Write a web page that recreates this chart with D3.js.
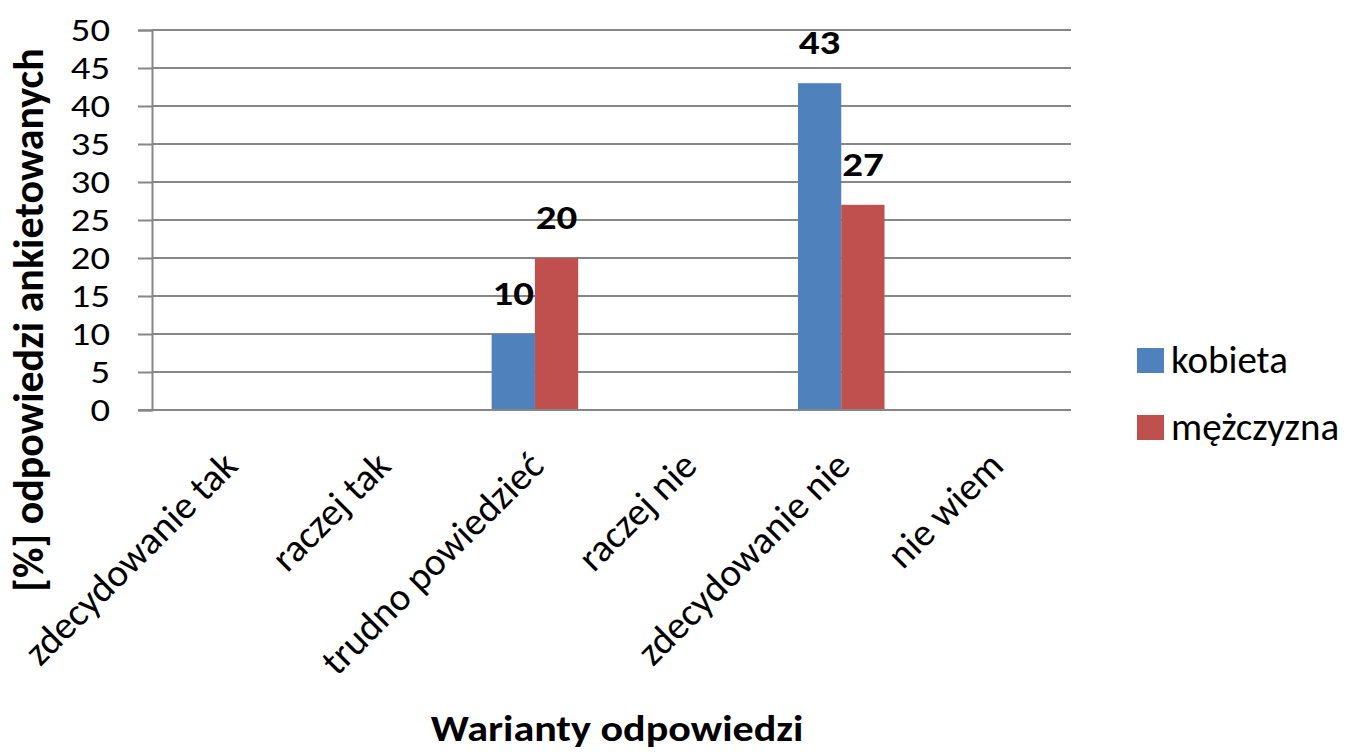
<!DOCTYPE html>
<html>
<head>
<meta charset="utf-8">
<script src="https://cdn.jsdelivr.net/npm/d3@7"></script>
<style>
  body { margin: 0; background: #fff; }
  svg text { font-family: Carlito, Calibri, "Open Sans", sans-serif; }
</style>
</head>
<body>
<div id="chart"></div>
<script>
// answer categories
const categories = [
  'zdecydowanie tak',
  'raczej tak',
  'trudno powiedzieć',
  'raczej nie',
  'zdecydowanie nie',
  'nie wiem',
];
const seriesNames = ['kobieta', 'mężczyzna'];
// null = no bar drawn
const kobieta = [null, null, 10, null, 43, null];
const mezczyzna = [null, null, 20, null, 27, null];
const yTicks = [0, 5, 10, 15, 20, 25, 30, 35, 40, 45, 50];

const colors = ['#4F81BD', '#C0504D'];
const gridColor = '#878787';
// the source picture has its horizontal text a bit wide
const stretch = 1.17;

const width = 1354;
const height = 753;
const margin = { top: 30, right: 283, bottom: 343, left: 152 };
const innerW = width - margin.left - margin.right;
const innerH = height - margin.top - margin.bottom;

const data = categories.map((c, i) => ({ cat: c, values: [kobieta[i], mezczyzna[i]] }));

const svg = d3.select('#chart')
  .append('svg')
  .attr('width', width)
  .attr('height', height);

const g = svg.append('g')
  .attr('transform', `translate(${margin.left}, ${margin.top})`);

const x = d3.scaleBand()
  .domain(categories)
  .range([0, innerW])
  .padding(0);

// two bars take ~56% of each category slot
const x1 = d3.scaleBand()
  .domain([0, 1])
  .range([0, x.bandwidth() * 0.565])
  .padding(0);

const y = d3.scaleLinear()
  .domain([0, 50])
  .range([innerH, 0]);

// gridlines
g.append('g')
  .selectAll('line')
  .data(yTicks.filter((t) => t > 0))
  .enter()
  .append('line')
  .attr('x1', 0)
  .attr('x2', innerW)
  .attr('y1', (d) => y(d))
  .attr('y2', (d) => y(d))
  .style('stroke', gridColor)
  .style('stroke-width', 2);

// y axis (line + ticks from d3, labels drawn below so they can be widened)
const yAxis = g.append('g')
  .call(d3.axisLeft(y).tickValues(yTicks).tickSize(14).tickFormat(''));
yAxis.select('.domain').style('stroke', gridColor).style('stroke-width', 2);
yAxis.selectAll('.tick line').style('stroke', gridColor).style('stroke-width', 2);

g.append('g')
  .selectAll('text')
  .data(yTicks)
  .enter()
  .append('text')
  .attr('text-anchor', 'end')
  .attr('dy', '0.33em')
  .attr('transform', (d) => `translate(-42, ${y(d)}) scale(${stretch}, 1)`)
  .style('font-size', '33px')
  .style('fill', '#000')
  .text((d) => d);

// bars
const groups = g.selectAll('.grp')
  .data(data)
  .enter()
  .append('g')
  .attr('class', 'grp')
  .attr('transform', (d) => `translate(${x(d.cat) + (x.bandwidth() - x1.range()[1]) / 2}, 0)`);

const barData = (d) => d.values.map((v, i) => ({ v, i })).filter((e) => e.v !== null);

groups.selectAll('rect')
  .data(barData)
  .enter()
  .append('rect')
  .attr('x', (d) => x1(d.i))
  .attr('width', x1.bandwidth())
  .attr('y', (d) => y(d.v))
  .attr('height', (d) => innerH - y(d.v))
  .style('fill', (d) => colors[d.i]);

// data labels
groups.selectAll('text.lbl')
  .data(barData)
  .enter()
  .append('text')
  .attr('class', 'lbl')
  .attr('text-anchor', 'middle')
  .attr('transform', (d) => `translate(${x1(d.i) + x1.bandwidth() / 2}, ${y(d.v) - 29}) scale(${stretch}, 1)`)
  .style('font-size', '35px')
  .style('font-weight', 'bold')
  .style('fill', '#000')
  .text((d) => d.v);

// x axis line
g.append('line')
  .attr('x1', -14)
  .attr('x2', innerW)
  .attr('y1', innerH)
  .attr('y2', innerH)
  .style('stroke', gridColor)
  .style('stroke-width', 2);

// x labels, rotated
g.append('g')
  .selectAll('text')
  .data(categories)
  .enter()
  .append('text')
  .attr('text-anchor', 'end')
  .attr('transform', (d) => `translate(${x(d) + x.bandwidth() / 2 + 11}, ${innerH + 58}) rotate(-45)`)
  .style('font-size', '39px')
  .style('fill', '#000')
  .text((d) => d);

// axis titles
svg.append('text')
  .attr('transform', `translate(43, ${margin.top + 290}) rotate(-90)`)
  .attr('text-anchor', 'middle')
  .style('font-size', '42px')
  .style('font-weight', 'bold')
  .text('[%] odpowiedzi ankietowanych');

svg.append('text')
  .attr('text-anchor', 'middle')
  .attr('transform', `translate(617, 741) scale(${stretch}, 1)`)
  .style('font-size', '36px')
  .style('font-weight', 'bold')
  .text('Warianty odpowiedzi');

// legend
const legend = svg.append('g')
  .selectAll('g')
  .data(seriesNames)
  .enter()
  .append('g')
  .attr('transform', (d, i) => `translate(1137, ${348 + i * 67})`);

legend.append('rect')
  .attr('width', 27)
  .attr('height', 25)
  .style('fill', (d, i) => colors[i]);

legend.append('text')
  .attr('x', 34)
  .attr('y', 25)
  .style('font-size', '39px')
  .style('fill', '#000')
  .text((d) => d);
</script>
</body>
</html>
